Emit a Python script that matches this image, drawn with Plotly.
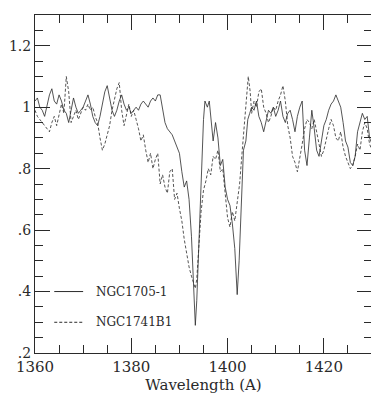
import plotly.graph_objects as go

# NGC1705-1 (solid)
wave_1705 = [
    1360.0, 1360.5, 1361.0, 1361.5, 1362.0, 1362.5, 1363.0, 1363.5, 1364.0, 1364.5,
    1365.0, 1365.5, 1366.0, 1366.5, 1367.0, 1367.5, 1368.0, 1368.5, 1369.0, 1369.5,
    1370.0, 1370.5, 1371.0, 1371.5, 1372.0, 1372.5, 1373.0, 1373.5, 1374.0, 1374.5,
    1375.0, 1375.5, 1376.0, 1376.5, 1377.0, 1377.5, 1378.0, 1378.5, 1379.0, 1379.5,
    1380.0, 1380.5, 1381.0, 1381.5, 1382.0, 1382.5, 1383.0, 1383.5, 1384.0, 1384.5,
    1385.0, 1385.5, 1386.0, 1386.5, 1387.0, 1387.5, 1388.0, 1388.5, 1389.0, 1389.5,
    1390.0, 1390.5, 1391.0, 1391.5, 1392.0, 1392.5, 1393.0, 1393.3, 1393.6, 1394.0,
    1394.5, 1395.0, 1395.3, 1395.8, 1396.2, 1396.6, 1397.0, 1397.5, 1398.0, 1398.5,
    1399.0, 1399.5, 1400.0, 1400.5, 1401.0, 1401.5, 1402.0, 1402.4, 1402.8, 1403.3,
    1403.8, 1404.2, 1404.6, 1405.0, 1405.5, 1406.0, 1406.5, 1407.0, 1407.5, 1408.0,
    1408.5, 1409.0, 1409.5, 1410.0, 1410.5, 1411.0, 1411.5, 1412.0, 1412.5, 1413.0,
    1413.5, 1414.0, 1414.5, 1415.0, 1415.5, 1416.0, 1416.5, 1417.0, 1417.5, 1418.0,
    1418.5, 1419.0, 1419.5, 1420.0, 1420.5, 1421.0, 1421.5, 1422.0, 1422.5, 1423.0,
    1423.5, 1424.0, 1424.5, 1425.0, 1425.5, 1426.0, 1426.5, 1427.0, 1427.5, 1428.0,
    1428.5, 1429.0, 1429.5, 1430.0,
]
flux_1705 = [
    1.02, 1.03, 1.00, 0.99, 0.97, 1.01, 1.04, 1.06, 1.02, 1.01,
    1.04, 1.02, 0.99, 0.98, 0.95, 0.99, 1.03, 1.00, 0.98, 0.99,
    1.00, 1.02, 1.04, 1.01, 0.97, 0.95, 0.94, 0.97, 1.01, 1.05,
    1.07, 1.03, 0.99, 0.97, 0.99, 1.02, 1.04, 1.01, 0.99, 1.00,
    0.98, 0.99, 1.00, 0.99, 1.01, 1.02, 1.01, 1.00, 1.02, 1.03,
    1.02, 1.04, 1.04, 1.00, 0.95, 0.93, 0.92, 0.91, 0.89, 0.87,
    0.85, 0.79, 0.74, 0.76, 0.70, 0.58, 0.40, 0.29, 0.37, 0.54,
    0.76, 0.96, 1.02, 1.00, 1.02, 0.95, 0.89, 0.95, 0.90, 0.81,
    0.83, 0.74, 0.70, 0.68, 0.62, 0.54, 0.39, 0.50, 0.64, 0.86,
    0.89, 0.96, 0.98, 1.00, 0.99, 1.02, 0.97, 0.95, 0.92, 0.96,
    0.99, 0.98, 1.00, 0.97, 0.99, 1.02, 0.97, 0.95, 0.98, 0.99,
    0.96, 0.92, 0.97, 1.00, 1.02, 0.86, 0.81, 0.90, 0.99, 0.93,
    0.86, 0.84, 0.89, 0.94, 0.96, 0.99, 1.01, 1.02, 1.04, 1.02,
    1.00, 0.95, 0.89, 0.87, 0.82, 0.81, 0.84, 0.92, 0.95, 0.98,
    0.96, 0.97, 0.90, 0.88,
]

# NGC1741B1 (dashed)
wave_1741 = [
    1360.0, 1360.5, 1361.0, 1361.5, 1362.0, 1362.5, 1363.0, 1363.5, 1364.0, 1364.5,
    1365.0, 1365.5, 1366.0, 1366.5, 1367.0, 1367.5, 1368.0, 1368.5, 1369.0, 1369.5,
    1370.0, 1370.5, 1371.0, 1371.5, 1372.0, 1372.5, 1373.0, 1373.5, 1374.0, 1374.5,
    1375.0, 1375.5, 1376.0, 1376.5, 1377.0, 1377.5, 1378.0, 1378.5, 1379.0, 1379.5,
    1380.0, 1380.5, 1381.0, 1381.5, 1382.0, 1382.5, 1383.0, 1383.5, 1384.0, 1384.5,
    1385.0, 1385.5, 1386.0, 1386.5, 1387.0, 1387.5, 1388.0, 1388.5, 1389.0, 1389.5,
    1390.0, 1390.5, 1391.0, 1391.5, 1392.0, 1392.5, 1393.0, 1393.3, 1393.6, 1394.0,
    1394.5, 1395.0, 1395.5, 1396.0, 1396.5, 1397.0, 1397.5, 1398.0, 1398.5, 1399.0,
    1399.5, 1400.0, 1400.5, 1401.0, 1401.5, 1402.0, 1402.5, 1403.0, 1403.5, 1404.0,
    1404.3, 1404.7, 1405.0, 1405.5, 1406.0, 1406.5, 1407.0, 1407.5, 1408.0, 1408.5,
    1409.0, 1409.5, 1410.0, 1410.5, 1411.0, 1411.5, 1412.0, 1412.5, 1413.0, 1413.5,
    1414.0, 1414.5, 1415.0, 1415.5, 1416.0, 1416.5, 1417.0, 1417.5, 1418.0, 1418.5,
    1419.0, 1419.5, 1420.0, 1420.5, 1421.0, 1421.5, 1422.0, 1422.5, 1423.0, 1423.5,
    1424.0, 1424.5, 1425.0, 1425.5, 1426.0, 1426.5, 1427.0, 1427.5, 1428.0, 1428.5,
    1429.0, 1429.5, 1430.0,
]
flux_1741 = [
    0.99, 0.97, 0.96, 0.95, 0.94, 0.93, 0.92, 0.95, 0.97, 0.94,
    0.98, 1.01, 0.98, 1.10, 1.05, 0.95, 0.97, 0.99, 0.96, 0.98,
    1.00, 0.99, 1.01, 0.99, 1.00, 0.97, 0.95, 0.90, 0.86, 0.88,
    0.91, 0.94, 0.99, 1.03, 1.06, 1.08, 0.99, 0.94, 0.98, 1.01,
    0.97, 0.99, 0.96, 0.93, 0.89, 0.91, 0.86, 0.82, 0.85, 0.80,
    0.83, 0.85, 0.75, 0.78, 0.74, 0.72, 0.79, 0.80, 0.70, 0.72,
    0.67, 0.63, 0.57, 0.52, 0.48, 0.45, 0.42, 0.41, 0.44, 0.55,
    0.66, 0.73, 0.76, 0.80, 0.78, 0.84, 0.83, 0.86, 0.79, 0.80,
    0.72, 0.64, 0.61, 0.66, 0.63, 0.69, 0.75, 0.85, 0.95, 1.05,
    1.10, 1.05, 0.98, 1.02, 1.00, 1.05, 1.06, 1.00, 0.98, 0.95,
    0.97, 1.00, 0.99, 1.02, 1.04, 1.07, 1.02, 0.94, 0.90, 0.84,
    0.82, 0.79, 0.83, 0.88, 0.93, 0.96, 0.95, 0.93, 0.96, 0.92,
    0.88, 0.84, 0.86, 0.90, 0.93, 0.96, 0.94, 0.90, 0.89, 0.92,
    0.87, 0.84, 0.82, 0.80, 0.81, 0.84, 0.88, 0.86, 0.92, 0.95,
    0.93, 0.88, 0.86,
]

x_ticks = [1360, 1380, 1400, 1420]
y_ticks = [0.2, 0.4, 0.6, 0.8, 1.0, 1.2]
y_ticktext = ['.2', '.4', '.6', '.8', '1', '1.2']

FONT = 'DejaVu Serif'
INK = '#2a2a2a'

fig = go.Figure()
fig.add_trace(go.Scatter(x=wave_1705, y=flux_1705, mode='lines', name='NGC1705-1',
                         line=dict(color=INK, width=0.8)))
fig.add_trace(go.Scatter(x=wave_1741, y=flux_1741, mode='lines', name='NGC1741B1',
                         line=dict(color=INK, width=0.8, dash='3px,2px')))

# legend drawn inside the frame, like the original
fig.add_shape(type='line', x0=1364, x1=1370, y0=0.4, y1=0.4,
              line=dict(color=INK, width=1))
fig.add_shape(type='line', x0=1364, x1=1370, y0=0.3, y1=0.3,
              line=dict(color=INK, width=1, dash='3px,2px'))
for yv, txt in [(0.4, 'NGC1705-1'), (0.3, 'NGC1741B1')]:
    fig.add_annotation(x=1372.3, y=yv, text=txt, showarrow=False,
                       xanchor='left', yanchor='middle',
                       font=dict(family=FONT, size=12, color=INK))

axis_common = dict(showgrid=False, zeroline=False, showline=True, linecolor=INK,
                   linewidth=1, mirror='ticks', ticks='inside', tickcolor=INK,
                   tickwidth=1, ticklen=15, automargin=False)

# the page body adds an 8px offset, so the figure is shrunk by that much
fig.update_layout(
    width=371, height=391,
    margin=dict(l=27, r=7, t=7, b=46),
    font=dict(family=FONT, color=INK),
    paper_bgcolor='white', plot_bgcolor='white',
    showlegend=False,
    xaxis=dict(range=[1360, 1430], tickvals=x_ticks,
               tickfont=dict(family=FONT, size=15, color=INK),
               minor=dict(dtick=5, tick0=1360, ticks='inside', ticklen=8,
                          tickcolor=INK, tickwidth=1),
               title=dict(text='Wavelength (A)', standoff=0,
                          font=dict(family=FONT, size=15, color=INK)),
               **axis_common),
    yaxis=dict(range=[0.2, 1.3], tickvals=y_ticks, ticktext=y_ticktext,
               tickfont=dict(family=FONT, size=14, color=INK),
               minor=dict(dtick=0.05, tick0=0.2, ticks='inside', ticklen=8,
                          tickcolor=INK, tickwidth=1),
               **axis_common),
)

fig.write_html("out.html")
